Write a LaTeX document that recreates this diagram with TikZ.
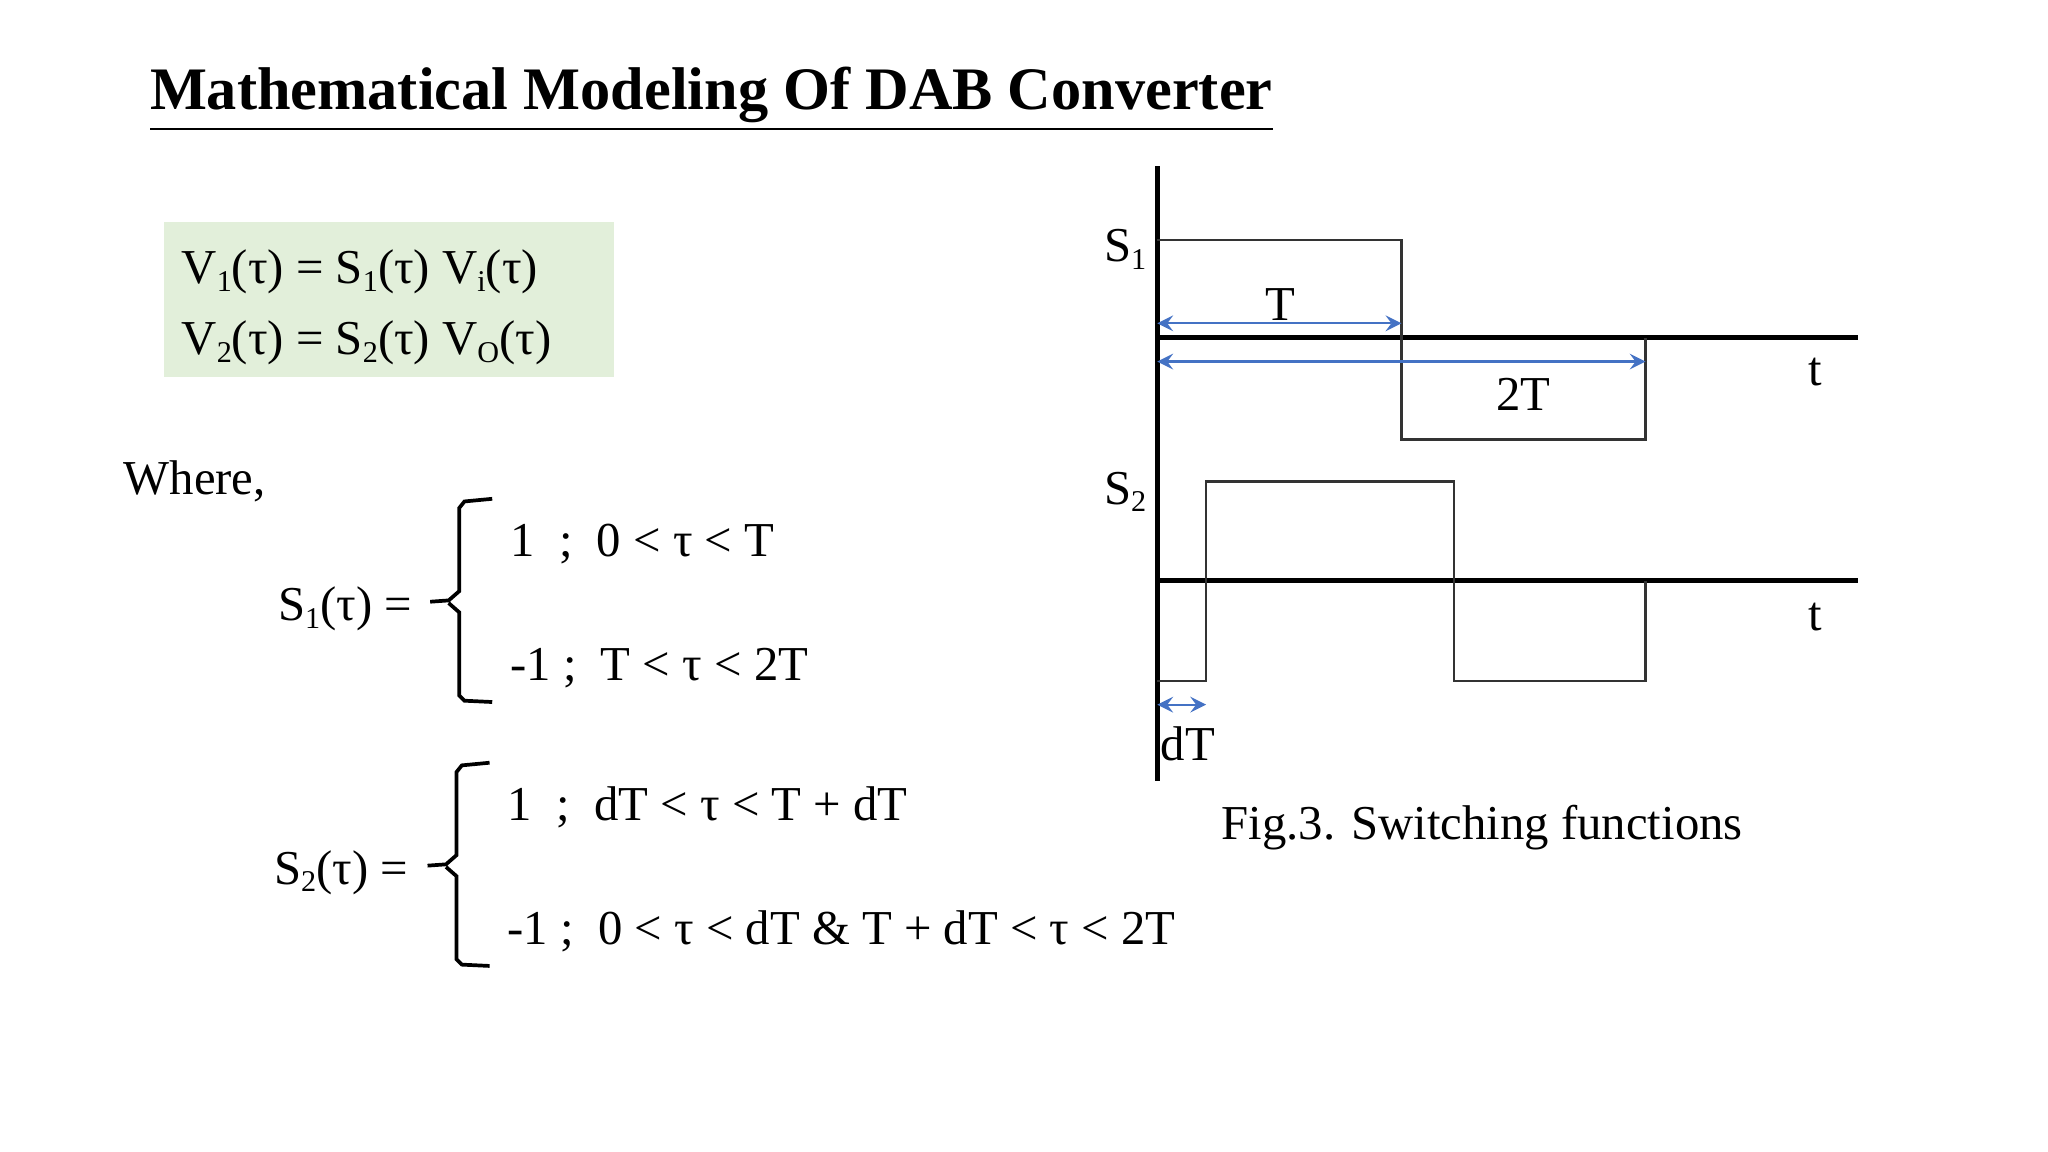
\documentclass[tikz,border=0pt]{standalone}
\usepackage{fontspec}
\setmainfont{Liberation Serif}
\newcommand{\sbs}[1]{\raisebox{-0.35ex}{\fontsize{6.5}{7}\selectfont #1}}
\definecolor{boxgreen}{HTML}{E2EFDA}
\definecolor{dimblue}{HTML}{4472C4}
\begin{document}
\begin{tikzpicture}[x=0.01cm,y=-0.01cm,
  txt/.style={anchor=base west,inner sep=0,font=\fontsize{10.5}{12}\selectfont},
  wave/.style={line width=0.5pt,black!80},
  axis/.style={line width=1.1pt},
  dim/.style={<->,>=stealth,dimblue,line width=0.5pt}]
\useasboundingbox (0,0) rectangle (1552,873);
\node[txt,font=\fontsize{13}{15}\selectfont\bfseries] (title) at (113,83) {\underline{Mathematical Modeling Of DAB Converter}};
\fill[boxgreen] (124,168) rectangle (465,286);
\node[txt] (v1) at (137,215) {V\sbs{1}(τ) = S\sbs{1}(τ) V\sbs{i}(τ)};
\node[txt] (v2) at (137,269) {V\sbs{2}(τ) = S\sbs{2}(τ) V\sbs{O}(τ)};
\node[txt] (where) at (93,375) {Where,};
\node[txt] (s1) at (210,470) {S\sbs{1}(τ) =};
\node[txt] (s1a) at (386,422) {1\ \ ;\ \ 0 < τ < T};
\node[txt] (s1b) at (386,516) {-1 ;\ \ T < τ < 2T};
\draw[line width=0.8pt] (373,378) -- (352,380) -- (348,385) -- (348,448) -- (340,455) -- (326,456)
  (340,457) -- (348,464) -- (348,527) -- (352,531) -- (373,532);
\node[txt] (s2) at (207,670) {S\sbs{2}(τ) =};
\node[txt] (s2a) at (384,622) {1\ \ ;\ \ dT < τ < T + dT};
\node[txt] (s2b) at (384,716) {-1 ;\ \ 0 < τ < dT \& T + dT < τ < 2T};
\draw[line width=0.8pt] (371,578) -- (350,580) -- (346,585) -- (346,648) -- (338,655) -- (324,656)
  (338,657) -- (346,664) -- (346,727) -- (350,731) -- (371,732);
% diagram
\coordinate (o) at (877,126); \coordinate (ob) at (877,592);
\draw[axis] (o) -- (ob);
\coordinate (a1) at (877,256); \coordinate (a1e) at (1408,256);
\coordinate (a2) at (877,440); \coordinate (a2e) at (1408,440);
\draw[axis] (a1) -- (a1e);
\draw[axis] (a2) -- (a2e);
\draw[wave] (877,182) -- (1062,182) -- (1062,333) -- (1247,333) -- (1247,256);
\draw[wave] (877,516) -- (914,516) -- (914,365) -- (1102,365) -- (1102,516) -- (1247,516) -- (1247,440);
\coordinate (d1) at (877,245); \coordinate (d1e) at (1062,245);
\coordinate (d2) at (877,274); \coordinate (d2e) at (1247,274);
\coordinate (d3) at (877,534); \coordinate (d3e) at (914,534);
\draw[dim] (d1) -- (d1e);
\draw[dim] (d2) -- (d2e);
\draw[dim] (d3) -- (d3e);
\node[txt] (ls1) at (836,198) {S\sbs{1}};
\node[txt] (lT) at (958,243) {T};
\node[txt] (l2T) at (1133,311) {2T};
\node[txt] (lt1) at (1370,292) {t};
\node[txt] (ls2) at (836,382) {S\sbs{2}};
\node[txt] (lt2) at (1370,478) {t};
\node[txt] (ldT) at (879,576) {dT};
\node[txt] (cap) at (925,636) {Fig.3. Switching functions};
\end{tikzpicture}
\end{document}
